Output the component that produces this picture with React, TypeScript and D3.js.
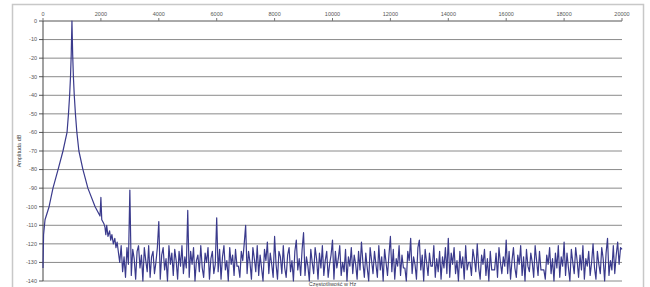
// Amplitude spectrum (FFT) of a 1 kHz tone, Excel-style line chart
import React from 'react'
import * as d3 from 'd3'

// main lobe around 1 kHz + first harmonic region (Hz / dB pairs)
const lobeHz = [0, 20, 70, 210, 345, 520, 690, 830, 880, 920, 950, 975, 1000, 1025, 1050, 1080, 1120, 1170, 1240, 1380, 1550, 1800, 1970, 2000, 2030, 2100, 2140, 2170, 2200, 2245, 2300, 2340, 2380, 2430, 2480, 2520, 2560]
const lobeDb = [-133, -115, -107, -100, -90, -80, -70, -60, -50, -40, -30, -18, 0, -18, -30, -40, -50, -60, -70, -80, -90, -100, -105, -95, -107, -109, -111, -115, -110, -116, -113, -118, -115, -120, -117, -122, -119]

// noise floor, 50 Hz bins from 2600 Hz to 20000 Hz (one row per kHz)
const noiseStart = 2600
const noiseStep = 50
const noiseDb = [
  -124, -130, -121, -135, -127, -138, -122, -131,
  -91, -137, -123, -128, -139, -124, -121, -133, -126, -140, -122, -129, -135, -121, -138, -127, -124, -136, -130, -122,
  -108, -139, -126, -122, -134, -128, -140, -121, -131, -125, -137, -123, -129, -139, -124, -132, -121, -136, -127, -133,
  -102, -138, -124, -131, -122, -140, -129, -126, -135, -121, -133, -138, -125, -130, -122, -139, -128, -124, -136, -131,
  -106, -135, -123, -139, -127, -121, -134, -129, -140, -122, -131, -126, -137, -123, -132, -132, -138, -124, -129, -120,
  -110, -136, -124, -130, -139, -122, -128, -135, -121, -137, -126, -133, -140, -123, -129, -119, -136, -125, -131, -138,
  -116, -131, -139, -124, -127, -136, -121, -133, -138, -126, -122, -135, -129, -140, -124, -118, -134, -128, -137, -123,
  -114, -137, -127, -132, -140, -123, -130, -136, -122, -128, -139, -125, -133, -121, -137, -129, -124, -138, -131, -126,
  -118, -139, -124, -133, -128, -121, -137, -130, -135, -123, -140, -127, -132, -122, -136, -126, -131, -139, -124, -134,
  -119, -130, -138, -125, -133, -140, -122, -129, -136, -124, -131, -138, -121, -134, -127, -140, -123, -130, -137, -126,
  -116, -135, -123, -139, -128, -132, -121, -137, -126, -133, -133, -140, -124, -129, -117, -136, -127, -131, -139, -122,
  -118, -134, -126, -140, -123, -130, -137, -125, -132, -132, -121, -138, -128, -135, -124, -139, -127, -133, -122, -136,
  -117, -138, -125, -131, -122, -136, -129, -140, -124, -133, -127, -139, -121, -134, -130, -130, -137, -123, -128, -135,
  -120, -133, -139, -126, -131, -123, -137, -128, -140, -124, -134, -134, -134, -125, -138, -122, -130, -136, -127, -132,
  -118, -136, -124, -139, -129, -122, -133, -138, -126, -131, -121, -137, -127, -140, -123, -132, -135, -125, -130, -138,
  -121, -129, -137, -124, -134, -134, -134, -139, -126, -131, -122, -136, -128, -140, -125, -133, -121, -138, -127, -132,
  -119, -137, -125, -133, -140, -123, -130, -136, -122, -129, -138, -126, -134, -121, -139, -128, -132, -124, -137, -130,
  -120, -133, -139, -124, -131, -136, -122, -128, -140, -125, -117, -137, -129, -134, -121, -136, -126, -119, -131, -122,
  -123,
]

const xTicks = [0, 2000, 4000, 6000, 8000, 10000, 12000, 14000, 16000, 18000, 20000]
const yTicks = [0, -10, -20, -30, -40, -50, -60, -70, -80, -90, -100, -110, -120, -130, -140]

const W = 650
const H = 287
const margin = { top: 21, right: 28, bottom: 6, left: 43 }

export default function App() {
  const points: [number, number][] = [
    ...lobeHz.map((f, i) => [f, lobeDb[i]] as [number, number]),
    ...noiseDb.map((v, i) => [noiseStart + i * noiseStep, v] as [number, number]),
  ]

  const x = d3.scaleLinear().domain([0, 20000]).range([margin.left, W - margin.right])
  const y = d3.scaleLinear().domain([0, -140]).range([margin.top, H - margin.bottom])

  const line = d3
    .line<[number, number]>()
    .x((d) => x(d[0]))
    .y((d) => y(d[1]))

  const font = 'Arial, "Liberation Sans", sans-serif'

  return (
    <svg
      width={W}
      height={H}
      style={{ position: 'absolute', left: 0, top: 0, background: '#fff' }}
      fontFamily={font}
    >
      {/* outer chart frame */}
      <rect x={12.5} y={4.5} width={631} height={300} fill="#fff" stroke="#c8c8c8" strokeWidth={1.5} />

      {/* horizontal grid */}
      {yTicks.map((t) => (
        <g key={'y' + t}>
          <line x1={margin.left} x2={W - margin.right} y1={y(t)} y2={y(t)} stroke={t === 0 ? '#555' : '#8a8a8a'} strokeWidth={1} />
          <line x1={margin.left - 4} x2={margin.left} y1={y(t)} y2={y(t)} stroke="#555" />
          <text x={margin.left - 6} y={y(t)} dy="0.35em" textAnchor="end" fontSize={5.5} fill="#555">
            {t}
          </text>
        </g>
      ))}

      {/* x axis on top */}
      {xTicks.map((t) => (
        <g key={'x' + t}>
          <line x1={x(t)} x2={x(t)} y1={margin.top - 3} y2={margin.top} stroke="#777" />
          <text x={x(t)} y={margin.top - 5} textAnchor="middle" fontSize={5.5} fill="#555">
            {t}
          </text>
        </g>
      ))}

      {/* y axis line */}
      <line x1={margin.left} x2={margin.left} y1={y(0)} y2={y(-140)} stroke="#444" />

      {/* spectrum */}
      <path d={line(points) || ''} fill="none" stroke="#3a3a8c" strokeWidth={1.2} strokeLinejoin="round" />

      {/* axis titles */}
      <text
        transform={`translate(21,${(y(0) + y(-140)) / 2}) rotate(-90)`}
        textAnchor="middle"
        fontSize={5.5}
        fill="#444"
      >
        Amplituda dB
      </text>
      <text x={(x(0) + x(20000)) / 2} y={286} textAnchor="middle" fontSize={5.5} fill="#444">
        Częstotliwość w Hz
      </text>
    </svg>
  )
}
